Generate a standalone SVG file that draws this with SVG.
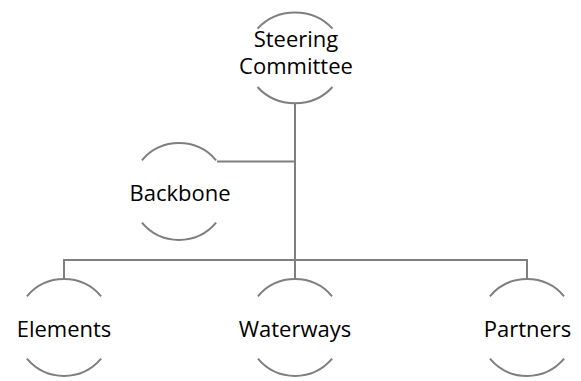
<svg xmlns="http://www.w3.org/2000/svg" width="581" height="381" viewBox="0 0 581 381">
  <style>
    .arc { fill: none; stroke: #7f7f7f; stroke-width: 2; }
    .link { fill: none; stroke: #7f7f7f; stroke-width: 2; }
    .label { font-family: "Open Sans", "Liberation Sans", sans-serif; font-size: 22px; fill: #000; text-anchor: middle; }
  </style>
  <rect width="581" height="381" fill="#fff"/>

  <!-- connectors -->
  <g id="connectors">
    <path class="link" d="M295 103 V260"/>
    <path class="link" d="M217 161.5 H295"/>
    <path class="link" d="M64 279 V260 H527 V279"/>
    <path class="link" d="M295 260 V279"/>
  </g>

  <!-- nodes: open circles, arcs above and below the label -->
  <g id="steering-committee">
    <path class="arc" d="M257.5 28.6 A49 45.5 0 0 1 332.5 28.6"/>
    <path class="arc" d="M257.5 87 A49 45.5 0 0 0 332.5 87"/>
    <text class="label" x="296" y="47">Steering</text>
    <text class="label" x="296" y="74">Committee</text>
  </g>

  <g id="backbone">
    <path class="arc" d="M141.9 160.3 A48.5 48.5 0 0 1 216.1 160.3"/>
    <path class="arc" d="M141.9 222.7 A48.5 48.5 0 0 0 216.1 222.7"/>
    <text class="label" x="180" y="201">Backbone</text>
  </g>

  <g id="elements">
    <path class="arc" d="M26.9 296.3 A48.5 48.5 0 0 1 101.1 296.3"/>
    <path class="arc" d="M26.9 358.7 A48.5 48.5 0 0 0 101.1 358.7"/>
    <text class="label" x="64" y="336.5">Elements</text>
  </g>

  <g id="waterways">
    <path class="arc" d="M257.9 296.3 A48.5 48.5 0 0 1 332.1 296.3"/>
    <path class="arc" d="M257.9 358.7 A48.5 48.5 0 0 0 332.1 358.7"/>
    <text class="label" x="295" y="336.5">Waterways</text>
  </g>

  <g id="partners">
    <path class="arc" d="M489.9 296.3 A48.5 48.5 0 0 1 564.1 296.3"/>
    <path class="arc" d="M489.9 358.7 A48.5 48.5 0 0 0 564.1 358.7"/>
    <text class="label" x="527.5" y="336.5">Partners</text>
  </g>
</svg>
